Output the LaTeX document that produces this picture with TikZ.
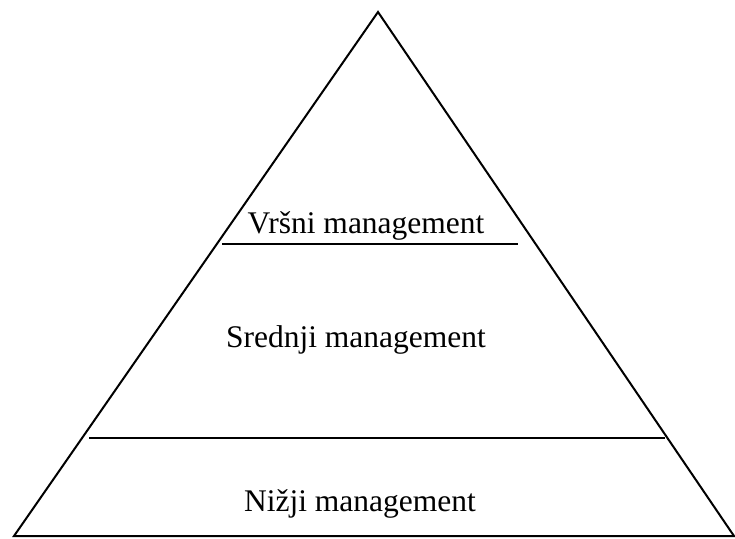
\documentclass[tikz,border=0pt]{standalone}
\usepackage{fontspec}
\setmainfont{Liberation Serif}
\begin{document}
\begin{tikzpicture}[x=1pt,y=-1pt,
  edge/.style={line width=2pt},
  lbl/.style={anchor=base,inner sep=0pt,font=\fontsize{31.5}{36}\selectfont}]
\useasboundingbox (0,0) rectangle (735,538);
\coordinate (apex) at (378,12);
\coordinate (bl) at (14,536);
\coordinate (br) at (734,536);
\draw[edge,line join=miter] (bl) -- (apex) -- (br) -- cycle;
\coordinate (l1a) at (222,244);
\coordinate (l1b) at (518,244);
\coordinate (l2a) at (89,438);
\coordinate (l2b) at (665,438);
\draw[edge] (l1a) -- (l1b);
\draw[edge] (l2a) -- (l2b);
\node[lbl] (top) at (366,233) {Vršni management};
\node[lbl] (mid) at (356,347) {Srednji management};
\node[lbl] (low) at (360,511) {Nižji management};
\end{tikzpicture}
\end{document}
